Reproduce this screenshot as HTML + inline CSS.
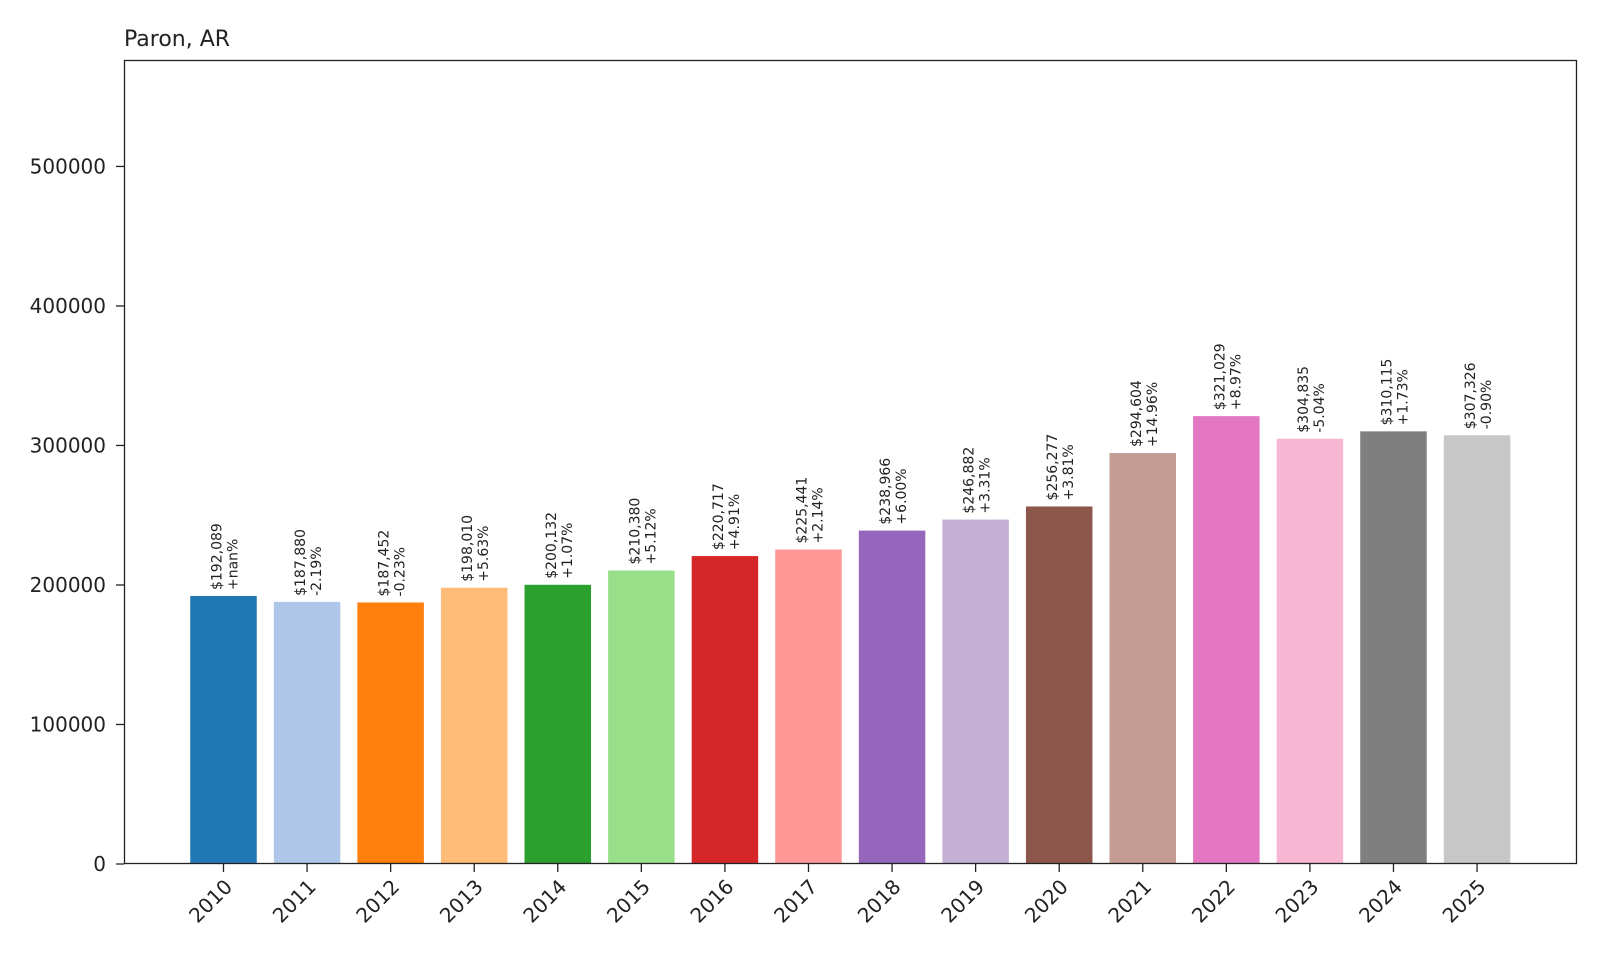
<!DOCTYPE html>
<html><head><meta charset="utf-8"><style>
html,body{margin:0;padding:0;background:#fff;}
svg{display:block;font-family:"DejaVu Sans","Liberation Sans",sans-serif;}
</style></head><body>
<svg id="chart" width="1600" height="960" viewBox="0 0 1600 960" xmlns="http://www.w3.org/2000/svg">
<text x="124" y="46" font-size="22" fill="#222">Paron, AR</text>
<g id="bars"></g>
<g id="yaxis"></g>
<g id="xaxis"></g>
<rect x="124.5" y="60.5" width="1452" height="803" fill="none" stroke="#222" stroke-width="1.3"/>
</svg>
<script>
const categories=["2010","2011","2012","2013","2014","2015","2016","2017","2018","2019","2020","2021","2022","2023","2024","2025"];
const values=[192089,187880,187452,198010,200132,210380,220717,225441,238966,246882,256277,294604,321029,304835,310115,307326];
const changes=["+nan%","-2.19%","-0.23%","+5.63%","+1.07%","+5.12%","+4.91%","+2.14%","+6.00%","+3.31%","+3.81%","+14.96%","+8.97%","-5.04%","+1.73%","-0.90%"];
const yTicks=[0,100000,200000,300000,400000,500000];
const colors=["#1f77b4","#aec7e8","#ff7f0e","#ffbb78","#2ca02c","#98df8a","#d62728","#ff9896","#9467bd","#c5b0d5","#8c564b","#c49c94","#e377c2","#f7b6d2","#7f7f7f","#c7c7c7"];
const NS="http://www.w3.org/2000/svg";
const L=124,R=1577,T=60,B=864,yMax=576300;
const y=v=>B-(v/yMax)*(B-T);
const x=i=>223.5+i*83.57;
const bw=66.5;
function mk(tag,attrs,parent){const e=document.createElementNS(NS,tag);for(const k in attrs)e.setAttribute(k,attrs[k]);parent.appendChild(e);return e;}
const gb=document.getElementById('bars'),gy=document.getElementById('yaxis'),gx=document.getElementById('xaxis');
yTicks.forEach(t=>{
  const ln=mk('line',{x1:L-8,x2:L,y1:y(t),y2:y(t),stroke:'#222','stroke-width':1.3},gy);
  
  
  const tx=mk('text',{x:L-18,y:y(t)+7,'text-anchor':'end','font-size':20,fill:'#222'},gy);
  tx.textContent=String(t);
  
  
});
categories.forEach((c,i)=>{
  const cx=x(i);
  const r=mk('rect',{x:cx-bw/2,y:y(values[i]),width:bw,height:B-y(values[i]),fill:colors[i]},gb);
  
  
  const top=y(values[i])-6;
  const l1=mk('text',{x:0,y:0,'font-size':14,fill:'#222',transform:`translate(${cx-2},${top}) rotate(-90)`},gb);
  l1.textContent='$'+values[i].toLocaleString('en-US');
  
  
  const l2=mk('text',{x:0,y:0,'font-size':14,fill:'#222',transform:`translate(${cx+14},${top}) rotate(-90)`},gb);
  l2.textContent=changes[i];
  
  
  const tk=mk('line',{x1:cx,x2:cx,y1:B,y2:B+8,stroke:'#222','stroke-width':1.3},gx);
  
  
  const tl=mk('text',{x:0,y:0,'font-size':20,fill:'#222','text-anchor':'end',transform:`translate(${cx+10},${B+24}) rotate(-45)`},gx);
  tl.textContent=c;
  
  
});
</script>
</body></html>
